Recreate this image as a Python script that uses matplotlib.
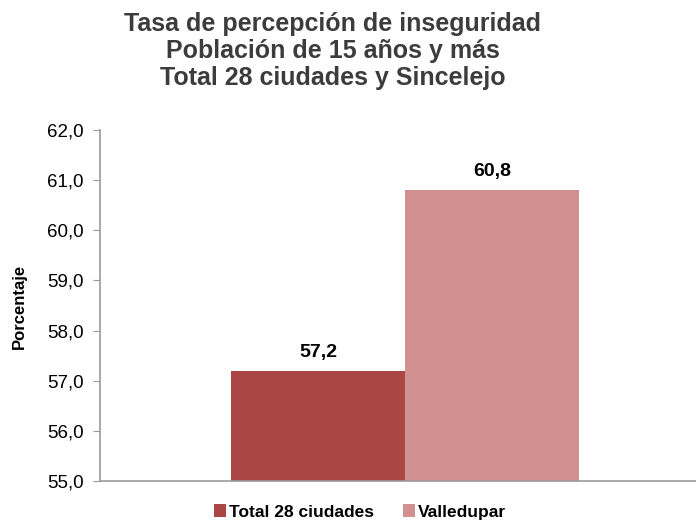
import numpy as np
import matplotlib.pyplot as plt
from matplotlib.patches import Patch

plt.rcParams['font.family'] = ['Liberation Sans', 'DejaVu Sans']

# datos
series = ['Total 28 ciudades', 'Valledupar']
valores = [57.2, 60.8]
colores = ['#AA4644', '#D29191']
yticks = [55.0, 56.0, 57.0, 58.0, 59.0, 60.0, 61.0, 62.0]

fig = plt.figure(figsize=(6.96, 5.23), dpi=100)
ax = fig.add_axes([100 / 696, 1 - 481 / 523, 596 / 696, 351 / 523])

ancho = 0.292
pos = [-ancho / 2, ancho / 2]
for x, v, c in zip(pos, valores, colores):
    ax.bar(x, v - 55.0, bottom=55.0, width=ancho, color=c, edgecolor='none')
    ax.annotate(f"{v:.1f}".replace('.', ','), (x, v), xytext=(0, 7),
                textcoords='offset points', ha='center', va='bottom',
                fontsize=14, fontweight='bold')

ax.set_xlim(-0.5117, 0.4883)
ax.set_ylim(55, 62)
ax.set_yticks(yticks)
ax.set_yticklabels([f"{t:.1f}".replace('.', ',') for t in yticks], fontsize=13.5)
ax.set_xticks([])
ax.tick_params(axis='y', length=5, color='#999999', pad=7)
for s in ['top', 'right']:
    ax.spines[s].set_visible(False)
for s in ['left', 'bottom']:
    ax.spines[s].set_color('#999999')
    ax.spines[s].set_linewidth(1.2)

fig.text(19.5 / 696, 1 - 306 / 523, 'Porcentaje', rotation=90, ha='center',
         va='center', fontsize=12, fontweight='bold')

fig.text(333 / 696, 1 - 51 / 523,
         'Tasa de percepción de inseguridad\nPoblación de 15 años y más\nTotal 28 ciudades y Sincelejo',
         ha='center', va='center', fontsize=18, fontweight='bold',
         color='#3c3c3c', linespacing=1.16)

handles = [Patch(facecolor=c, edgecolor='none') for c in colores]
leg = fig.legend(handles, series, loc='center', bbox_to_anchor=(360 / 696, 1 - 512 / 523),
                 ncol=2, frameon=False, prop={'weight': 'bold', 'size': 12.5},
                 handlelength=0.7, handleheight=0.7, handletextpad=0.15, columnspacing=1.7,
                 borderpad=0.2)

fig.savefig('out.png', dpi=100)
